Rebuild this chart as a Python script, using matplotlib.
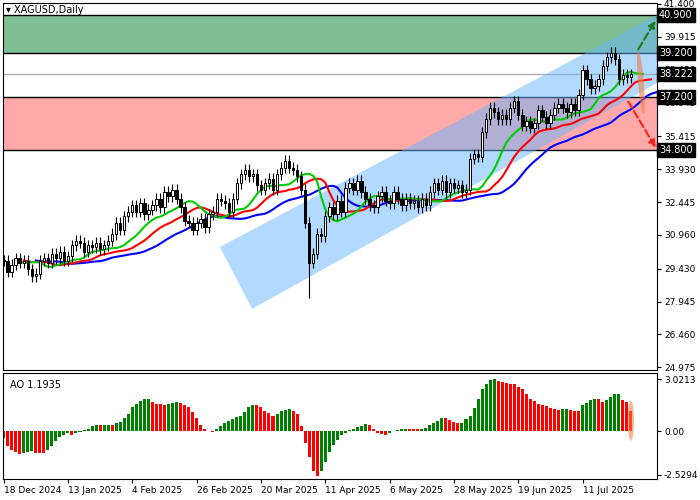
import numpy as np
import pandas as pd
import matplotlib
matplotlib.use("Agg")
import matplotlib.pyplot as plt
from matplotlib.patches import Polygon, Ellipse, Rectangle

# cierres diarios (XAGUSD)
cierres = [29.8, 29.3, 29.6, 29.9, 29.7, 29.8, 29.4, 29.1, 29.2, 29.8, 29.9, 29.7,
           30.1, 29.9, 30.2, 29.8, 30.0, 30.5, 30.7, 30.6, 30.2, 30.5, 30.4,
           30.6, 30.3, 30.5, 30.7, 31.0, 31.5, 31.2, 31.8, 32.0,
           32.3, 32.0, 32.4, 31.9, 32.1, 32.3, 32.6, 32.2, 32.9, 32.7, 33.0,
           32.6, 32.2, 31.6, 31.5, 31.2, 31.5, 31.7, 31.3, 31.9, 32.0,
           32.6, 32.5, 32.4, 32.0, 32.6, 33.3, 33.7, 33.9, 33.6, 33.7, 33.2, 33.0,
           33.3, 33.5, 33.0, 33.7, 34.0, 34.3, 34.0, 33.9, 33.6, 33.0,
           31.5, 29.7, 30.1, 31.0, 30.9, 31.8, 32.2, 31.9,
           32.5, 32.0, 33.1, 33.3, 33.0, 33.4, 32.9, 32.6, 32.3, 32.2, 32.7, 32.9,
           32.5, 32.4, 32.9, 32.6, 32.3, 32.6, 32.4, 32.5, 32.2, 32.6, 32.3, 32.9,
           33.3, 33.0, 33.4, 32.9, 33.3, 33.1, 33.2, 32.9, 33.0,
           34.4, 34.6, 34.5, 35.6, 36.2, 36.7, 36.5, 36.2, 36.4, 36.2, 36.7, 37.0,
           36.4, 35.9, 36.1, 35.8, 36.0, 36.6, 36.3, 36.0, 36.4, 36.7, 36.9,
           36.7, 36.5, 36.9, 36.6, 37.3, 38.4, 38.0, 37.6, 37.7, 38.0,
           38.6, 39.0, 39.2, 38.9, 38.0, 38.2, 38.1, 38.222]
mecha = 0.25  # largo aprox de mechas

ao = [-0.4, -0.85, -1.1, -1.2, -1.35, -1.3, -1.2, -1.15, -1.25, -1.3, -1.3, -1.1,
      -0.85, -0.6, -0.35, -0.2, -0.1, -0.2, -0.1, -0.05, 0.05, 0.1, 0.3, 0.35,
      0.35, 0.37, 0.38, 0.38, 0.45, 0.55, 0.75, 1.0, 1.4, 1.6, 1.75, 1.85, 1.9,
      1.7, 1.6, 1.6, 1.55, 1.6, 1.65, 1.7, 1.65, 1.5, 1.4, 1.1, 0.75, 0.35, 0.1,
      0.0, -0.05, 0.1, 0.3, 0.5, 0.6, 0.7, 0.8, 0.9, 1.1, 1.4, 1.55, 1.55, 1.4,
      1.2, 1.05, 0.9, 1.0, 1.15, 1.25, 1.3, 1.2, 1.0, 0.3, -0.7, -1.5, -2.3, -2.6,
      -2.3, -1.8, -1.2, -0.8, -0.5, -0.25, -0.1, 0.05, 0.15, 0.25, 0.3, 0.4, 0.35,
      0.1, -0.1, -0.15, -0.2, -0.1, 0.0, 0.05, 0.1, 0.15, 0.12, 0.12, 0.12, 0.15,
      0.18, 0.35, 0.45, 0.6, 0.75, 0.75, 0.65, 0.55, 0.45, 0.5, 0.7, 0.9, 1.35,
      1.9, 2.45, 2.75, 3.0, 3.02, 2.95, 2.85, 2.8, 2.75, 2.74, 2.6, 2.45, 2.15,
      1.9, 1.75, 1.6, 1.5, 1.45, 1.35, 1.3, 1.25, 1.3, 1.31, 1.25, 1.2, 1.15, 1.5,
      1.65, 1.8, 1.9, 1.85, 1.7, 1.8, 2.0, 2.15, 2.16, 1.8, 1.7, 1.19]

fechas = ["18 Dec 2024", "13 Jan 2025", "4 Feb 2025", "26 Feb 2025", "20 Mar 2025",
          "11 Apr 2025", "6 May 2025", "28 May 2025", "19 Jun 2025", "11 Jul 2025"]
fechas_idx = [0, 16, 32, 48, 64, 80, 96, 112, 128, 144]

ticks_precio = [41.400, 39.915, 38.430, 36.945, 35.415, 33.930, 32.445, 30.960,
                29.430, 27.945, 26.460, 24.975]
niveles = [40.900, 39.200, 37.200, 34.800]
ultimo = 38.222

n = len(cierres)
idx = np.arange(n)
c = np.array(cierres)
o = np.r_[c[0], c[:-1]]
hi = np.maximum(o, c) + mecha
lo = np.minimum(o, c) - mecha
lo[76] = 28.1

fig = plt.figure(figsize=(7, 5), dpi=100)
W, H = 700, 500
ax = fig.add_axes([3/W, 1 - 370/H, 654/W, 367/H])
ax2 = fig.add_axes([3/W, 1 - 479/H, 654/W, 106/H])
xl = (-0.15, 162.5)

# zonas
ax.axhspan(39.2, 40.9, color="#00802b", alpha=0.5, lw=0, zorder=0)
ax.axhspan(34.8, 37.2, color="#ff5555", alpha=0.5, lw=0, zorder=0)
for nv in niveles:
    ax.axhline(nv, color="black", lw=1, zorder=1)
ax.axhline(ultimo, color="#b0b0b0", lw=1, zorder=1)

# canal
canal = [(53.8, 30.41), (162.5, 40.90), (162.5, 37.83), (61.8, 27.61)]
ax.add_patch(Polygon(canal, closed=True, color="#66b5ff", alpha=0.5, lw=0, zorder=1))

# alligator
med = pd.Series((hi + lo) / 2)
def smma(s, p, sh):
    v = s.ewm(alpha=1/p, adjust=False).mean().values
    return idx + sh, v
for p, sh, col in [(13, 8, "#0000ff"), (8, 5, "#ff0000"), (5, 3, "#00cc00")]:
    xx, yy = smma(med, p, sh)
    ax.plot(xx, yy, color=col, lw=1.5, zorder=2)

# velas
for i in idx:
    ax.vlines(i, lo[i], hi[i], color="black", lw=0.8, zorder=3)
    alc = c[i] >= o[i]
    b0, b1 = min(o[i], c[i]), max(o[i], c[i])
    if b1 - b0 < 0.03:
        b1 = b0 + 0.03
    ax.add_patch(Rectangle((i - 0.3, b0), 0.6, b1 - b0, facecolor="white" if alc else "black",
                           edgecolor="black", lw=0.7, zorder=4))

# flechas
ax.annotate("", xy=(162.5, 40.75), xytext=(157.5, 39.25),
            arrowprops=dict(arrowstyle="-|>", ls="--", color="#1a7a1a", lw=1.5), zorder=6)
ax.annotate("", xy=(162.5, 34.8), xytext=(155, 37.1),
            arrowprops=dict(arrowstyle="-|>", ls="--", color="#ff2020", lw=1.5), zorder=6)
ax.add_patch(Ellipse((158.5, 37.85), 3.2, 1.3, angle=-60, color="#f08040", alpha=0.6, lw=0, zorder=5))

ax.set_xlim(*xl)
ax.set_ylim(24.85, 41.445)
ax.yaxis.tick_right()
ax.set_yticks(ticks_precio)
ax.set_yticklabels(["%.3f" % t for t in ticks_precio], fontsize=6.5)
ax.set_xticks([])
ax.tick_params(axis="y", length=3, pad=2)
for nv in niveles + [ultimo]:
    ax.text(1.003, nv, "%.3f" % nv, transform=ax.get_yaxis_transform(), fontsize=7,
            color="white", va="center", ha="left", clip_on=False,
            bbox=dict(boxstyle="square,pad=0.2", fc="black", ec="black"), zorder=10)
ax.text(0.005, 0.995, "\u25be XAGUSD,Daily", transform=ax.transAxes, fontsize=7, va="top")

# AO
a = np.array(ao)
colores = ["green" if (i > 0 and a[i] > a[i-1]) else "red" for i in range(len(a))]
colores[0] = "red"
ax2.bar(np.arange(len(a)), a, width=0.75, color=colores, zorder=2)
ax2.add_patch(Ellipse((len(a) - 1, 0.6), 1.6, 2.3, color="#f08040", alpha=0.55, lw=0, zorder=3))
ax2.set_xlim(*xl)
ax2.set_ylim(-2.79, 3.39)
ax2.yaxis.tick_right()
ax2.set_yticks([3.0213, 0.0, -2.5294])
ax2.set_yticklabels(["3.0213", "0.00", "-2.5294"], fontsize=6.5)
ax2.tick_params(axis="y", length=3, pad=2)
ax2.set_xticks(fechas_idx)
ax2.set_xticklabels(fechas, fontsize=6.5, ha="left")
ax2.tick_params(axis="x", length=3, pad=2)
ax2.text(0.01, 0.93, "AO 1.1935", transform=ax2.transAxes, fontsize=7, va="top")

for a_ in (ax, ax2):
    for s in a_.spines.values():
        s.set_linewidth(0.8)

fig.savefig("out.png", dpi=100)
